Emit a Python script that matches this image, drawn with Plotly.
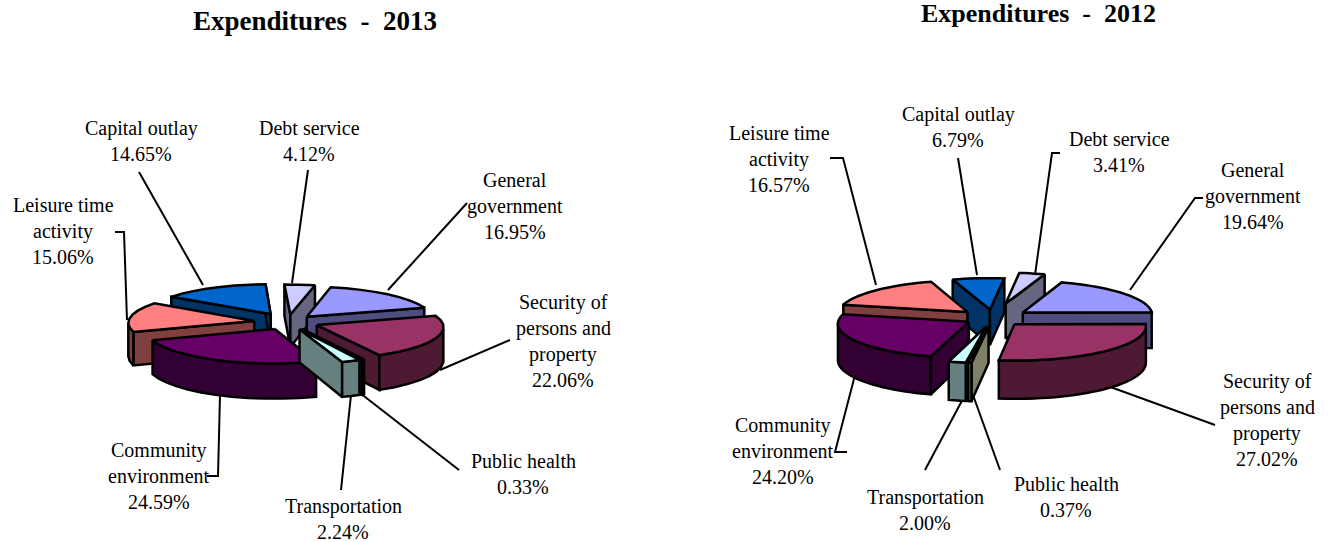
import math
import plotly.graph_objects as go

# ---------- data ----------
categories = ["General government", "Security of persons and property", "Public health",
              "Transportation", "Community environment", "Leisure time activity",
              "Capital outlay", "Debt service"]
values_2013 = [16.95, 22.06, 0.33, 2.24, 24.59, 15.06, 14.65, 4.12]
values_2012 = [19.64, 27.02, 0.37, 2.00, 24.20, 16.57, 6.79, 3.41]
top_colors = ["#9999FF", "#993366", "#FFFFCC", "#CCFFFF", "#660066", "#FF8080", "#0066CC", "#CCCCFF"]
side_colors = ["#4D4D80", "#4D1933", "#808066", "#668080", "#330033", "#804040", "#003366", "#666680"]

label_lines = [["General", "government"], ["Security of", "persons and", "property"], ["Public health"],
               ["Transportation"], ["Community", "environment"], ["Leisure time", "activity"],
               ["Capital outlay"], ["Debt service"]]

# ---------- chart set-ups (projection, label anchors, leader lines) ----------
chart_2013 = dict(
    values=values_2013, year="2013", title_xy=(315, 21), title_size=27,
    cx=288, cy=322, R=126, k=0.255, p=0.05, depth=33, start=12, step=8,
    explode=[28, 31, 30, 30, 30, 34, 36, 30],
    label_xy=[(515, 180), (563, 302), (523, 461), (343, 506), (159, 450), (63, 205), (141, 128), (309, 128)],
    leaders=[[(467, 203), (388, 290)], [(510, 340), (440, 370)], [(459, 470), (360, 393)],
             [(341, 490), (351, 395)], [(207, 476), (218, 476), (220, 395)],
             [(115, 232), (124, 232), (127, 320)], [(139, 172), (203, 285)], [(308, 170), (292, 283)]],
)
chart_2012 = dict(
    values=values_2012, year="2012", title_xy=(1038, 13), title_size=26,
    cx=993, cy=318, R=130, k=0.26, p=0.05, depth=36, start=19, step=3,
    explode=[37, 32, 33, 33, 28, 35, 33, 58],
    label_xy=[(1253, 170), (1267, 381), (1066, 484), (925, 497), (783, 425), (779, 133), (958, 114), (1119, 139)],
    leaders=[[(1203, 198), (1195, 198), (1130, 290)], [(1215, 425), (1105, 385)], [(1000, 470), (973, 395)],
             [(925, 470), (965, 395)], [(847, 452), (835, 452), (855, 375)],
             [(830, 158), (843, 158), (876, 285)], [(958, 158), (977, 275)], [(1060, 153), (1052, 153), (1035, 275)]],
)

FONT = "Liberation Serif, Times New Roman, serif"
LINE_H = 26
fig = go.Figure()


def add_poly(pts, fill):
    xs = [p[0] for p in pts] + [pts[0][0]]
    ys = [p[1] for p in pts] + [pts[0][1]]
    fig.add_trace(go.Scatter(x=xs, y=ys, mode="lines", fill="toself", fillcolor=fill,
                             line=dict(color="black", width=2.5, simplify=False),
                             hoverinfo="skip", showlegend=False))


def draw_pie(c):
    # leader lines underneath the pie
    for line in c["leaders"]:
        fig.add_trace(go.Scatter(x=[p[0] for p in line], y=[p[1] for p in line], mode="lines",
                                 line=dict(color="black", width=2), hoverinfo="skip", showlegend=False))

    total = sum(c["values"])

    def project(u, v, h):
        s = 1 / (1 + c["p"] * v / c["R"])
        return (c["cx"] + u * s, c["cy"] - c["k"] * v * s + c["depth"] * h * s)

    wedges, cum = [], 0.0
    for i, val in enumerate(c["values"]):
        a = c["start"] + 360 * cum / total
        cum += val
        b = c["start"] + 360 * cum / total
        wedges.append((i, a, b))
    wedges.sort(key=lambda w: -math.cos(math.radians((w[1] + w[2]) / 2)))

    for i, a, b in wedges:
        mid = math.radians((a + b) / 2)
        e = c["explode"][i]
        ox, oy = e * math.sin(mid), e * math.cos(mid)

        def rim(t, h):
            r = math.radians(t)
            return project(ox + c["R"] * math.sin(r), oy + c["R"] * math.cos(r), h)

        apex = lambda h: project(ox, oy, h)
        n = max(2, int((b - a) / c["step"]) + 1)
        ts = [a + (b - a) * j / n for j in range(n + 1)]

        # radial faces
        if math.cos(math.radians(a - 90)) < 0.05:
            add_poly([apex(0), rim(a, 0), rim(a, 1), apex(1)], side_colors[i])
        if math.cos(math.radians(b + 90)) < 0.05:
            add_poly([apex(0), rim(b, 0), rim(b, 1), apex(1)], side_colors[i])
        # outer wall: only the part that faces the viewer
        front = [t for t in ts if math.cos(math.radians(t)) < 0]
        if len(front) >= 2:
            add_poly([rim(t, 0) for t in front] + [rim(t, 1) for t in reversed(front)], side_colors[i])
        # top face
        add_poly([apex(0)] + [rim(t, 0) for t in ts], top_colors[i])

    # labels, one annotation per line to hold the wide line spacing
    for i, (x, y) in enumerate(c["label_xy"]):
        lines = label_lines[i] + [f"{c['values'][i]:.2f}%"]
        for j, txt in enumerate(lines):
            fig.add_annotation(x=x, y=y + j * LINE_H, text=txt, showarrow=False, xanchor="center",
                               yanchor="middle", font=dict(family=FONT, size=20, color="black"))
    fig.add_annotation(x=c["title_xy"][0], y=c["title_xy"][1], text=f"<b>Expenditures  -  {c['year']}</b>",
                       showarrow=False, xanchor="center", yanchor="middle",
                       font=dict(family=FONT, size=c["title_size"], color="black"))


draw_pie(chart_2013)
draw_pie(chart_2012)

fig.update_layout(width=1330, height=542, margin=dict(l=0, r=0, t=0, b=0),
                  paper_bgcolor="white", plot_bgcolor="white", showlegend=False,
                  xaxis=dict(range=[0, 1330], visible=False, fixedrange=True),
                  yaxis=dict(range=[542, 0], visible=False, fixedrange=True))
fig.write_html("out.html", config={"displayModeBar": False}, post_script="document.body.style.margin='0';")
